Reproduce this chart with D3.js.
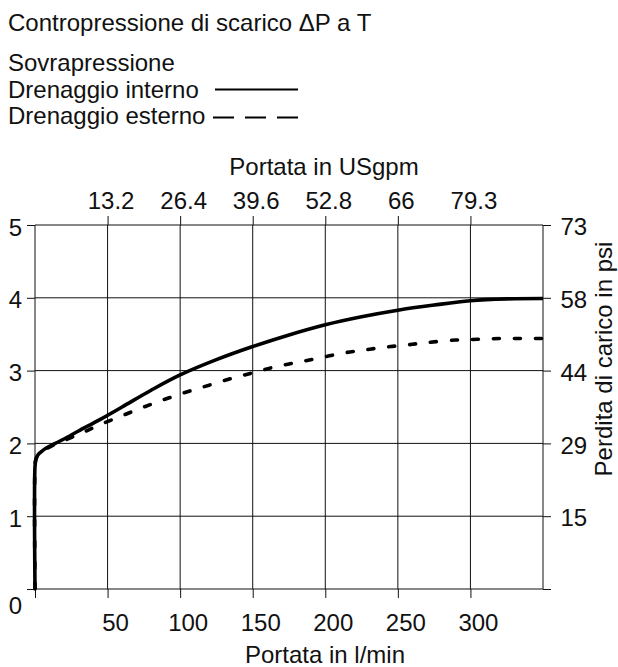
<!DOCTYPE html>
<html>
<head>
<meta charset="utf-8">
<script src="https://cdn.jsdelivr.net/npm/d3@7"></script>
<style>
  html, body { margin: 0; padding: 0; background: #fff; }
  svg text { font-family: "Liberation Sans", Arial, Helvetica, sans-serif; font-size: 24px; fill: #111; }
</style>
</head>
<body>
<svg id="chart" width="618" height="667"></svg>
<script>
// Flow in l/min (bottom axis) and back-pressure in bar (left axis)
const flowTicks = [0, 50, 100, 150, 200, 250, 300];
const usgpmLabels = ["13.2", "26.4", "39.6", "52.8", "66", "79.3"];
const barTicks = [0, 1, 2, 3, 4, 5];
const psiLabels = ["15", "29", "44", "58", "73"];

// Internal drain (solid)
const internoFlow = [0, 0, 0.6, 2, 4, 8, 14, 20, 30, 45, 60, 80, 100, 125, 150, 175, 200, 225, 250, 275, 300, 325, 350];
const internoBar  = [0, 1.68, 1.78, 1.84, 1.88, 1.94, 2.00, 2.06, 2.17, 2.33, 2.50, 2.73, 2.94, 3.15, 3.33, 3.49, 3.63, 3.74, 3.83, 3.90, 3.96, 3.985, 3.99];

// External drain (dashed)
const esternoFlow = [0, 0, 0.6, 2, 4, 8, 14, 20, 32, 44, 60, 75, 90, 105, 120, 135, 150, 165, 180, 195, 212, 226, 240, 255, 270, 290, 305, 320, 335, 350];
const esternoBar  = [0, 1.68, 1.78, 1.84, 1.88, 1.93, 1.99, 2.04, 2.14, 2.25, 2.38, 2.50, 2.61, 2.71, 2.80, 2.89, 2.97, 3.05, 3.11, 3.17, 3.24, 3.28, 3.32, 3.35, 3.385, 3.42, 3.43, 3.44, 3.44, 3.44];

const FONT = '"Liberation Sans", Arial, Helvetica, sans-serif';
const svg = d3.select("#chart");
const x = d3.scaleLinear().domain([0, 350]).range([35, 543]);
const y = d3.scaleLinear().domain([0, 5]).range([589, 225]);

// Header texts and legend
svg.append("text").attr("x", 8).attr("y", 30.5).text("Contropressione di scarico \u0394P a T");
svg.append("text").attr("x", 8).attr("y", 70.5).text("Sovrapressione");
svg.append("text").attr("x", 8).attr("y", 97.5).text("Drenaggio interno");
svg.append("text").attr("x", 8).attr("y", 124).text("Drenaggio esterno");
svg.append("line").attr("x1", 215).attr("x2", 298).attr("y1", 89.5).attr("y2", 89.5)
  .attr("stroke", "#000").attr("stroke-width", 2);
svg.append("line").attr("x1", 213).attr("x2", 298).attr("y1", 117.5).attr("y2", 117.5)
  .attr("stroke", "#000").attr("stroke-width", 2).attr("stroke-dasharray", "21,11");

// Grid
const grid = svg.append("g").attr("stroke", "#111").attr("stroke-width", 1);
grid.selectAll(".gx").data(flowTicks.concat([350])).enter().append("line")
  .attr("x1", d => x(d)).attr("x2", d => x(d)).attr("y1", y(0)).attr("y2", y(5));
grid.selectAll(".gy").data(barTicks).enter().append("line")
  .attr("y1", d => y(d)).attr("y2", d => y(d)).attr("x1", x(0)).attr("x2", x(350));

function styleAxis(g) {
  g.select(".domain").remove();
  g.selectAll(".tick line").attr("stroke", "#111");
  g.selectAll(".tick text").attr("fill", "#111").style("font-size", "24px").style("font-family", FONT);
}

// Bottom axis (l/min)
svg.append("g").attr("transform", `translate(0,${y(0)})`)
  .call(d3.axisBottom(x).tickValues(flowTicks).tickSize(9).tickSizeOuter(0)
    .tickFormat(d => d === 0 ? "" : d))
  .call(styleAxis)
  .call(g => g.selectAll(".tick text").attr("y", 42).attr("dy", 0).attr("dx", 7.5));

// Top axis (US gpm)
const topTicks = flowTicks.slice(1);
svg.append("g").attr("transform", `translate(0,${y(5)})`)
  .call(d3.axisTop(x).tickValues(topTicks).tickSize(9).tickSizeOuter(0)
    .tickFormat((d, i) => usgpmLabels[i]))
  .call(styleAxis)
  .call(g => g.selectAll(".tick text").attr("y", -16).attr("dy", 0).attr("dx", 3));

// Left axis (bar)
svg.append("g").attr("transform", `translate(${x(0)},0)`)
  .call(d3.axisLeft(y).tickValues(barTicks).tickSize(8).tickPadding(5).tickSizeOuter(0)
    .tickFormat(d3.format("d")))
  .call(styleAxis)
  .call(g => g.selectAll(".tick text").attr("dy", d => d === 0 ? "1.02em" : "0.42em"));

// Right axis (psi)
svg.append("g").attr("transform", `translate(${x(350)},0)`)
  .call(d3.axisRight(y).tickValues(barTicks).tickSize(8).tickPadding(9.5).tickSizeOuter(0)
    .tickFormat(d => d === 0 ? "" : psiLabels[d - 1]))
  .call(styleAxis)
  .call(g => g.selectAll(".tick text").attr("dy", "0.4em"));

// Axis titles
svg.append("text").attr("x", 325).attr("y", 662.5).attr("text-anchor", "middle").text("Portata in l/min");
svg.append("text").attr("x", 324).attr("y", 175).attr("text-anchor", "middle").text("Portata in USgpm");
svg.append("text").attr("transform", "translate(612,359) rotate(-90)")
  .attr("text-anchor", "middle").text("Perdita di carico in psi");

// Curves
const line = d3.line().x(d => x(d[0])).y(d => y(d[1])).curve(d3.curveCatmullRom.alpha(0.5));
const esterno = esternoFlow.map((f, i) => [f, esternoBar[i]]);
const interno = internoFlow.map((f, i) => [f, internoBar[i]]);

svg.append("path").attr("d", line(esterno)).attr("fill", "none").attr("stroke", "#000")
  .attr("stroke-width", 3.6).attr("stroke-linecap", "round").attr("stroke-dasharray", "6,15");
svg.append("path").attr("d", line(interno)).attr("fill", "none").attr("stroke", "#000")
  .attr("stroke-width", 3.6).attr("stroke-linejoin", "round");
</script>
</body>
</html>
